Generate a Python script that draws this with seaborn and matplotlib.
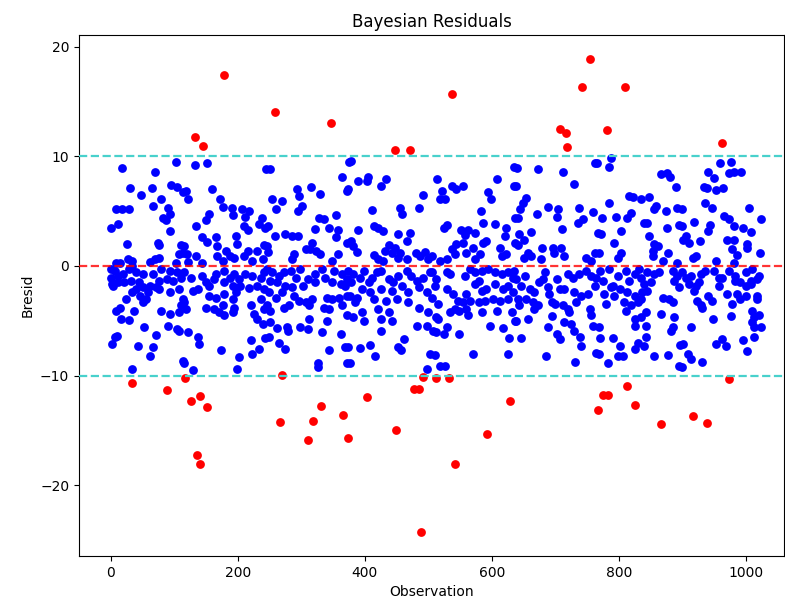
import matplotlib
matplotlib.use("Agg")
import matplotlib.pyplot as plt
import seaborn as sns
import pandas as pd

# Residuals inside the +/-10 band, (observation, bresid), grouped by observation range
blue_000_115 = [
    (18, 8.9), (102, 9.45), (70, 8.6), (30, 7.1), (47, 6.5), (65, 7.1), (95, 7.4), (104, 7.2),
    (113, 6.7), (79, 6.1), (66, 5.5), (90, 5.3), (8, 5.2), (18, 5.2), (28, 5.2), (94, 4.7),
    (82, 4.4), (87, 4.2), (1, 3.5), (11, 3.8), (93, 3.2), (25, 2.0), (74, 2.1), (76, 1.9),
    (111, 1.9), (108, 1.06), (113, 1.2), (70, 0.6), (76, 0.76), (27, 0.67), (34, 0.45), (8, 0.24),
    (15, 0.3), (61, 0.36), (103, 0.3), (0, -0.3), (6, -0.45), (1, -1.06), (11, -0.9), (19, -0.76),
    (29, -0.3), (34, 0.0), (39, -0.55), (50, -0.76), (45, -1.5), (32, -1.36), (21, -1.5), (11, -1.5),
    (2, -1.67), (4, -1.8), (66, -0.76), (79, -0.3), (93, -0.45), (104, -0.6), (111, -1.06), (98, -1.36),
    (88, -1.2), (76, -1.36), (71, -1.97), (61, -1.8), (51, -1.97), (39, -2.1), (46, -2.7), (56, -3.0),
    (58, -2.4), (34, -2.4), (24, -3.0), (76, -2.1), (94, -2.4), (107, -2.1), (113, -3.0), (51, -3.3),
    (14, -3.8), (9, -4.1), (37, -4.1), (16, -4.85), (29, -4.9), (79, -4.15), (93, -4.4), (111, -3.6),
    (108, -4.2), (53, -5.6), (90, -5.45), (104, -5.8), (10, -6.4), (2, -7.1), (71, -6.3), (66, -7.4),
    (61, -8.2), (43, -7.3), (113, -8.7), (33, -9.4), (108, -5.9), (6, -6.5),
]
blue_115_245 = [
    (132, 9.2), (151, 9.4), (244, 8.85), (118, 6.8), (122, 6.1), (159, 7.0), (172, 6.1), (177, 5.4),
    (191, 5.3), (193, 4.6), (207, 5.15), (218, 5.0), (212, 4.5), (238, 4.4), (233, 3.8), (243, 3.5),
    (155, 4.7), (150, 4.2), (134, 3.6), (210, 3.6), (216, 3.3), (197, 2.7), (199, 2.0), (143, 2.6),
    (152, 2.2), (165, 2.6), (168, 1.8), (181, 1.4), (187, 0.9), (194, 0.76), (210, 0.9), (216, 1.4),
    (230, 1.4), (241, 1.9), (115, 1.8), (120, 1.06), (134, 0.9), (168, 0.9), (176, 0.45), (144, 0.3),
    (121, 0.36), (223, 0.45), (239, 0.6), (115, -0.6), (127, -1.06), (129, -2.3), (137, -2.1),
    (144, -0.9), (150, -1.5), (155, -1.8), (162, -1.2), (165, -0.76), (179, -0.45), (187, -1.06),
    (194, -0.76), (202, -1.2), (212, -0.76), (223, -0.9), (236, -1.06), (241, -0.55), (179, -1.5),
    (192, -1.8), (204, -1.8), (218, -2.0), (231, -1.8), (241, -2.1), (155, -2.7), (165, -2.9),
    (179, -2.6), (192, -3.0), (197, -2.4), (150, -3.8), (162, -3.9), (171, -4.2), (179, -4.5),
    (192, -4.2), (194, -3.8), (176, -3.6), (115, -3.3), (118, -3.9), (236, -3.0), (221, -3.6),
    (226, -4.4), (231, -4.85), (239, -5.3), (241, -3.9), (122, -6.06), (137, -6.5), (139, -7.1),
    (174, -7.7), (221, -6.8), (223, -8.0), (234, -7.6), (243, -6.6), (202, -8.3), (199, -9.4),
    (129, -9.5), (115, -8.9),
]
blue_245_375 = [
    (250, 8.85), (375, 9.5), (364, 8.1), (293, 7.0), (296, 6.4), (315, 7.2), (330, 6.6), (372, 6.8),
    (254, 6.06), (269, 5.9), (260, 5.2), (301, 5.45), (295, 5.0), (354, 4.6), (328, 4.4), (335, 4.3),
    (248, 3.6), (321, 3.4), (343, 3.5), (357, 3.3), (354, 2.6), (275, 2.9), (285, 2.7), (295, 2.7),
    (259, 2.7), (317, 2.1), (313, 1.5), (246, 1.8), (248, 1.3), (307, 1.5), (323, 1.4), (330, 1.06),
    (288, 1.06), (285, 0.6), (357, 1.06), (372, 2.1), (349, 0.45), (246, -0.3), (254, -0.6),
    (265, -0.9), (251, -1.36), (262, -1.5), (273, -0.6), (283, -0.45), (291, -1.06), (298, -0.3),
    (310, -1.2), (322, -0.76), (333, -0.3), (338, -1.06), (352, -0.45), (364, -0.76), (372, -1.2),
    (275, -1.8), (285, -1.97), (302, -1.8), (322, -1.5), (349, -1.5), (362, -1.67), (369, -1.8),
    (249, -2.4), (260, -2.9), (270, -2.4), (288, -2.7), (296, -3.2), (307, -3.3), (317, -3.0),
    (340, -2.9), (349, -3.0), (359, -2.9), (372, -2.7), (246, -3.6), (251, -4.1), (273, -3.8),
    (280, -3.6), (312, -3.6), (335, -3.8), (343, -3.9), (364, -3.6), (372, -4.5), (312, -4.85),
    (340, -5.0), (251, -5.15), (262, -5.7), (278, -5.6), (279, -5.9), (298, -5.6), (310, -5.75),
    (362, -6.2), (332, -6.06), (249, -6.5), (265, -7.0), (275, -7.6), (343, -7.7), (369, -7.4),
    (372, -8.9), (327, -8.9), (326, -9.2),
]
blue_375_505 = [
    (378, 9.6), (390, 7.7), (405, 8.1), (403, 7.7), (433, 7.9), (426, 7.3), (374, 7.0), (492, 6.5),
    (485, 5.3), (411, 5.06), (456, 5.3), (458, 4.7), (390, 3.3), (414, 3.6), (421, 3.5), (429, 3.2),
    (453, 2.9), (471, 3.0), (466, 2.3), (379, 2.3), (382, 1.8), (388, 1.3), (438, 1.9), (448, 1.67),
    (432, 1.4), (443, 1.2), (456, 1.2), (414, 0.97), (421, 0.6), (480, 1.15), (487, 0.9), (495, 1.3),
    (500, 0.6), (429, 0.45), (466, 0.6), (453, 0.76), (374, -0.45), (382, -0.76), (393, -1.06),
    (398, -0.45), (379, -1.5), (406, -1.5), (411, -1.06), (419, -0.6), (426, -0.45), (438, -1.2),
    (445, -1.5), (453, -0.9), (466, -0.45), (473, -0.9), (482, -1.36), (492, -1.06), (503, -0.6),
    (396, -2.1), (408, -2.4), (426, -2.1), (443, -2.3), (458, -1.8), (468, -2.4), (485, -1.97),
    (498, -2.4), (377, -2.7), (388, -2.9), (414, -3.0), (433, -3.2), (450, -3.0), (468, -3.3),
    (384, -3.3), (421, -3.9), (438, -4.2), (396, -4.2), (485, -3.8), (500, -4.2), (382, -4.7),
    (398, -5.0), (426, -4.85), (443, -5.0), (482, -5.45), (498, -5.45), (425, -5.9), (461, -6.7),
    (453, -7.4), (457, -7.7), (393, -7.5), (408, -7.2), (416, -8.2), (374, -7.4), (377, -8.9),
    (503, -8.0), (498, -9.4),
]
blue_505_636 = [
    (635, 9.0), (513, 7.9), (537, 7.3), (544, 7.0), (555, 7.3), (608, 7.9), (635, 7.3), (521, 6.8),
    (519, 6.06), (526, 6.06), (594, 6.7), (599, 6.1), (583, 5.0), (636, 4.4), (529, 3.7), (525, 3.5),
    (586, 3.9), (605, 3.8), (623, 3.5), (552, 3.3), (563, 3.3), (573, 3.0), (557, 2.8), (621, 2.7),
    (636, 2.1), (586, 2.1), (591, 2.3), (544, 2.0), (555, 2.1), (571, 1.67), (613, 1.67), (537, 1.5),
    (542, 1.06), (560, 1.2), (581, 1.06), (616, 0.9), (623, 1.06), (505, 0.9), (519, 0.45), (529, 0.6),
    (573, 0.6), (505, -0.6), (512, -1.2), (529, -0.6), (534, -0.76), (557, -0.9), (566, -0.3),
    (573, -0.6), (584, -0.45), (594, -0.3), (605, -0.6), (616, -0.76), (626, -0.6), (634, -1.06),
    (510, -1.8), (529, -2.1), (539, -2.6), (560, -2.6), (573, -1.67), (579, -1.36), (584, -2.3),
    (591, -2.1), (605, -1.67), (618, -2.1), (626, -1.8), (634, -2.4), (505, -2.9), (515, -3.5),
    (547, -3.2), (555, -3.3), (566, -3.2), (579, -3.3), (589, -3.2), (602, -3.0), (613, -3.2),
    (626, -3.0), (542, -3.9), (549, -4.1), (560, -3.9), (563, -4.5), (584, -4.2), (608, -4.1),
    (631, -4.2), (512, -4.7), (515, -4.85), (534, -4.2), (636, -5.0), (597, -5.45), (618, -5.7),
    (507, -5.9), (529, -5.6), (524, -6.2), (512, -6.06), (549, -6.2), (627, -6.6), (510, -8.1),
    (571, -8.0), (625, -8.0), (519, -9.1), (526, -9.1),
]
blue_636_767 = [
    (763, 9.4), (640, 8.9), (673, 8.8), (712, 8.6), (729, 7.5), (638, 7.3), (654, 6.2), (649, 5.7),
    (645, 5.2), (688, 5.4), (704, 5.15), (702, 4.5), (671, 4.7), (737, 5.3), (759, 4.9), (744, 4.3),
    (735, 3.9), (710, 3.4), (641, 4.4), (643, 2.9), (661, 3.1), (651, 2.4), (641, 1.9), (767, 3.0),
    (679, 1.67), (696, 1.67), (709, 1.67), (657, 1.2), (651, 0.76), (662, 0.9), (698, 1.2), (714, 0.9),
    (678, 0.6), (749, 0.76), (762, 1.2), (756, 0.45), (635, -0.45), (638, -1.2), (652, -0.9),
    (646, -1.8), (660, -2.1), (667, -2.4), (683, -0.6), (680, -1.2), (688, -1.97), (675, -1.5),
    (702, -1.2), (707, -2.1), (714, -2.1), (720, -0.76), (727, -1.06), (738, -0.76), (749, -0.45),
    (756, -0.9), (764, -1.06), (730, -2.4), (741, -2.7), (751, -2.6), (762, -1.8), (641, -3.0),
    (643, -3.6), (654, -3.0), (665, -3.3), (667, -3.9), (672, -3.6), (690, -2.6), (694, -3.3),
    (699, -3.5), (712, -3.6), (720, -3.9), (732, -3.3), (754, -3.9), (756, -4.5), (657, -4.85),
    (638, -5.0), (694, -4.6), (722, -4.2), (714, -5.15), (725, -5.3), (730, -5.9), (759, -5.45),
    (688, -5.6), (702, -6.2), (707, -6.7), (739, -6.5), (741, -7.3), (646, -6.6), (685, -8.2),
    (731, -8.8), (764, -7.9),
]
blue_766_896 = [
    (788, 9.85), (785, 9.0), (766, 9.4), (867, 8.4), (876, 8.5), (880, 8.1), (890, 7.2), (816, 6.4),
    (822, 6.3), (835, 6.06), (848, 6.3), (785, 5.76), (858, 5.45), (856, 5.15), (874, 5.0), (891, 5.3),
    (774, 4.4), (795, 4.5), (813, 4.4), (819, 4.85), (840, 3.9), (845, 3.9), (895, 3.7), (876, 3.5),
    (772, 2.9), (804, 3.2), (848, 2.7), (792, 2.1), (856, 2.0), (861, 1.8), (853, 1.4), (877, 1.2),
    (769, 1.2), (803, 1.15), (798, 0.76), (853, 0.9), (869, 0.45), (892, 0.3), (771, -0.45),
    (785, -0.3), (798, -0.9), (811, -0.45), (825, -0.76), (832, -0.3), (845, -0.6), (855, -0.76),
    (863, -0.6), (885, -0.45), (892, -0.9), (775, -1.36), (790, -1.8), (801, -2.1), (816, -1.36),
    (835, -1.06), (840, -1.67), (850, -1.5), (887, -1.36), (895, -1.97), (776, -2.6), (788, -1.97),
    (793, -2.7), (813, -2.4), (825, -2.7), (837, -2.4), (845, -2.3), (869, -2.9), (879, -3.0),
    (885, -3.3), (780, -3.5), (808, -3.3), (819, -3.6), (830, -3.3), (835, -3.0), (811, -4.1),
    (825, -4.85), (843, -4.2), (835, -4.7), (867, -4.4), (887, -4.7), (825, -5.45), (843, -5.45),
    (885, -5.6), (769, -5.6), (882, -5.9), (771, -6.6), (790, -6.6), (843, -6.5), (802, -7.3),
    (830, -7.0), (840, -7.3), (825, -7.6), (896, -7.2), (769, -8.0), (798, -8.2), (806, -8.2),
    (855, -8.2), (877, -8.1), (783, -8.9), (895, -9.15),
]
blue_896_1023 = [
    (960, 9.4), (976, 9.45), (973, 8.5), (981, 8.55), (992, 8.6), (941, 8.55), (949, 8.0), (934, 7.2),
    (939, 7.1), (953, 6.9), (964, 7.1), (935, 5.7), (947, 5.3), (1005, 5.3), (899, 5.2), (965, 4.55),
    (973, 4.3), (1023, 4.3), (919, 4.0), (943, 3.7), (982, 3.6), (995, 3.5), (1008, 3.1), (899, 3.6),
    (941, 3.2), (905, 2.7), (901, 2.4), (928, 2.3), (971, 2.4), (982, 2.4), (1002, 2.0), (911, 2.1),
    (978, 1.5), (986, 0.97), (1022, 1.2), (1002, 1.67), (921, 0.9), (916, 0.76), (953, 0.45), (981, 0.3),
    (899, -0.6), (905, -1.06), (913, -0.9), (911, -1.67), (921, -1.8), (918, -2.3), (929, -0.76),
    (936, -0.45), (926, -1.5), (949, -0.45), (958, -1.06), (963, -1.06), (973, -0.45), (983, -0.9),
    (991, -1.5), (1000, -0.6), (1010, -0.3), (1018, -1.2), (1020, -0.9), (983, -1.36), (1000, -1.8),
    (1008, -1.67), (1008, -1.36), (958, -1.8), (971, -2.6), (986, -2.6), (1000, -2.7), (1018, -2.7),
    (1018, -3.0), (923, -3.2), (929, -3.6), (931, -3.8), (941, -2.7), (946, -3.2), (978, -3.5),
    (991, -3.0), (1010, -4.1), (1013, -4.7), (1020, -4.5), (1010, -5.15), (1023, -5.6), (1013, -5.6),
    (976, -4.6), (948, -4.85), (913, -5.6), (1013, -6.5), (953, -7.1), (963, -6.7), (968, -7.3),
    (995, -6.8), (1002, -7.8), (901, -7.1), (909, -8.0), (913, -8.5), (931, -8.8), (899, -9.2),
]

# Residuals flagged as outliers
red_obs = [132, 146, 179, 259, 346, 447, 471, 537, 707, 716, 718, 742, 755, 781, 810, 963,
           34, 88, 117, 127, 140, 151, 136, 141, 269, 266, 310, 318, 331, 365, 374, 404, 449,
           477, 485, 488, 492, 512, 533, 542, 593, 628, 767, 775, 783, 813, 825, 866, 917, 938, 974]
red_resid = [11.75, 10.97, 17.4, 14.0, 13.0, 10.6, 10.6, 15.7, 12.5, 12.1, 10.8, 16.3, 18.9, 12.4, 16.3, 11.2,
             -10.67, -11.36, -10.2, -12.36, -11.9, -12.9, -17.27, -18.06, -9.95, -14.27, -15.9, -14.18, -12.8,
             -13.6, -15.7, -12.0, -15.0, -11.24, -11.24, -24.3, -10.1, -10.2, -10.2, -18.1, -15.3, -12.3,
             -13.1, -11.8, -11.8, -11.0, -12.7, -14.4, -13.7, -14.3, -10.36]

blue = pd.DataFrame(
    blue_000_115 + blue_115_245 + blue_245_375 + blue_375_505
    + blue_505_636 + blue_636_767 + blue_766_896 + blue_896_1023,
    columns=["Observation", "Bresid"],
)
red = pd.DataFrame({"Observation": red_obs, "Bresid": red_resid})

fig = plt.figure(figsize=(7.85, 6.07), dpi=100)
ax = fig.add_axes([79 / 785, 51 / 607, 705 / 785, 521 / 607])

sns.scatterplot(data=blue, x="Observation", y="Bresid", color="blue",
                s=40, linewidth=0, ax=ax, zorder=2)
sns.scatterplot(data=red, x="Observation", y="Bresid", color="red",
                s=40, linewidth=0, ax=ax, zorder=2)

ax.axhline(0, color="red", linestyle="--", linewidth=1.6, alpha=0.8, zorder=3)
ax.axhline(10, color="mediumturquoise", linestyle="--", linewidth=1.6, zorder=3)
ax.axhline(-10, color="mediumturquoise", linestyle="--", linewidth=1.6, zorder=3)

ax.set_xlim(-50, 1060)
ax.set_xticks([0, 200, 400, 600, 800, 1000])
ax.set_yticks([-20, -10, 0, 10, 20])
ax.set_title("Bayesian Residuals", fontsize=12)
ax.set_xlabel("Observation", fontsize=10)
ax.set_ylabel("Bresid", fontsize=10)

fig.savefig("out.png", dpi=100)
